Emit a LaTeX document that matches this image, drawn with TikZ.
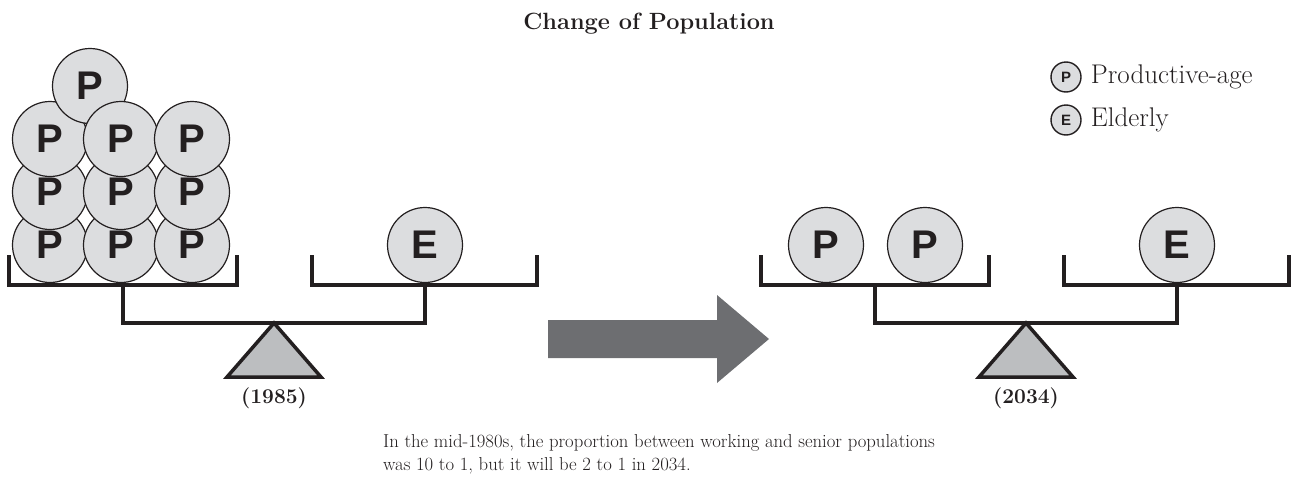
\documentclass[tikz,border=0pt]{standalone}
\usepackage{fontspec}
\usetikzlibrary{positioning}
\newfontfamily\circfont{Liberation Sans}
\definecolor{ink}{HTML}{231F20}
\definecolor{discgray}{HTML}{DCDDDF}
\definecolor{pivotgray}{HTML}{BCBEC0}
\definecolor{arrowgray}{HTML}{6D6E71}
\begin{document}
\begin{tikzpicture}[x=1pt,y=-1pt,
        pers/.style={circle,draw=ink,line width=1.2pt,fill=discgray,minimum size=75pt,inner sep=0pt,text=ink,
                     font=\circfont\bfseries\fontsize{40}{40}\selectfont},
        legdisc/.style={pers,minimum size=30pt,line width=1.4pt,font=\circfont\bfseries\fontsize{15}{15}\selectfont},
        legtext/.style={inner sep=0pt,text=ink,font=\fontsize{27}{30}\selectfont},
        beam/.style={draw=ink,line width=3.5pt},
        pivot/.style={draw=ink,fill=pivotgray,line width=3.5pt,line join=miter},
        yearlabel/.style={text=ink,font=\bfseries\fontsize{21}{24}\selectfont}
    ]
    \useasboundingbox (0,0) rectangle (1291,490);

    \node[text=ink,font=\bfseries\fontsize{23.5}{27}\selectfont] (title) at (649,24) {Change of Population};

    % stack of P on the 1985 scale
    \foreach \y/\r in {245/a,192/b} {
        \foreach \x/\c in {50/1,121/2,192/3} {
            \node[pers] (p\r\c) at (\x,\y) {P};
        }
    }
    \node[pers] (pc1) at (50,139) {P};
    \node[pers] (ptop) at (90,86) {P};
    \node[pers] (pc2) at (121,139) {P};
    \node[pers] (pc3) at (192,139) {P};
    \node[pers] (e85) at (425,245) {E};

    % 2034 scale
    \node[pers] (q1) at (826,245) {P};
    \node[pers] (q2) at (925,245) {P};
    \node[pers] (e34) at (1177,245) {E};

    % the two balances
    \foreach \fx/\yr in {274/1985,1026/2034} {
        \begin{scope}[xshift=\fx pt]
            \draw[beam] (-265,255) |- (-37,285) -- (-37,255);
            \draw[beam] (38,255) |- (263,285) -- (263,255);
            \draw[beam] (-151,285) |- (151,323) -- (151,285);
            \draw[pivot] (0,323) -- (-47,377) -- (47,377) -- cycle;
            \node[yearlabel] (y\yr) at (0,398) {(\yr)};
        \end{scope}
    }

    \fill[arrowgray] (548,320) -- (717,320) -- (717,295) -- (769,339) -- (717,383) -- (717,358) -- (548,358) -- cycle;

    % legend
    \node[legdisc] (lp) at (1066,77) {P};
    \node[legtext,right=9pt of lp] (lptext) {Productive-age};
    \node[legdisc] (le) at (1066,120) {E};
    \node[legtext,right=9pt of le] (letext) {Elderly};

    \node[anchor=north west,inner sep=0pt,align=left,text=ink,font=\fontsize{18.7}{23}\selectfont] (note) at (383,434)
        {In the mid-1980s, the proportion between working and senior populations\\was 10 to 1, but it will be 2 to 1 in 2034.};
\end{tikzpicture}
\end{document}
